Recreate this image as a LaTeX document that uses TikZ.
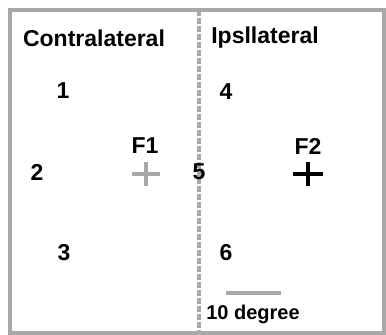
\documentclass[tikz,border=0pt]{standalone}
\usepackage{fontspec}
\setmainfont{Liberation Sans}
\definecolor{framegray}{RGB}{168,168,168}
\tikzset{
  lbl/.style={font=\fontsize{23}{27}\selectfont\bfseries, inner sep=0pt},
  smalllbl/.style={font=\fontsize{20}{23}\selectfont\bfseries, inner sep=0pt},
  fixmark/.style={line width=4.5pt},
}

\begin{document}
\begin{tikzpicture}[x=1pt,y=-1pt]
 \useasboundingbox (0,0) rectangle (386,335);
 \draw[framegray, line width=4pt] (10,10) rectangle (384,332.5);
 \coordinate (midtop) at (199,10);
 \coordinate (midbot) at (199,332);
 \draw[framegray, line width=3.5pt, dash pattern=on 6pt off 2pt] (midtop) -- (midbot);
 \node[lbl] (contra) at (94,38) {Contralateral};
 \node[lbl] (ipsi)   at (265,38) {Ipsllateral};
 \node[lbl] (t1) at (63,91) {1};
 \node[lbl] (t2) at (37,172) {2};
 \node[lbl] (t3) at (64,253) {3};
 \node[lbl] (t4) at (226,92) {4};
 \node[lbl] (t5) at (199,172) {5};
 \node[lbl] (t6) at (226,253) {6};
 \node[lbl] (lf1) at (145,146) {F1};
 \node[lbl] (lf2) at (308,146) {F2};
 \coordinate (f1) at (146,174);
 \coordinate (f2) at (308,174);
 \draw[fixmark, framegray] (f1) +(-14,0) -- +(14,0) +(0,-12) -- +(0,12);
 \draw[fixmark, black] (f2) +(-15,0) -- +(15,0) +(0,-12) -- +(0,12);
 \coordinate (barl) at (226,293);
 \coordinate (barr) at (281,293);
 \draw[framegray, line width=4.5pt] (barl) -- (barr);
 \node[smalllbl] (scale) at (253,314) {10 degree};
\end{tikzpicture}
\end{document}
